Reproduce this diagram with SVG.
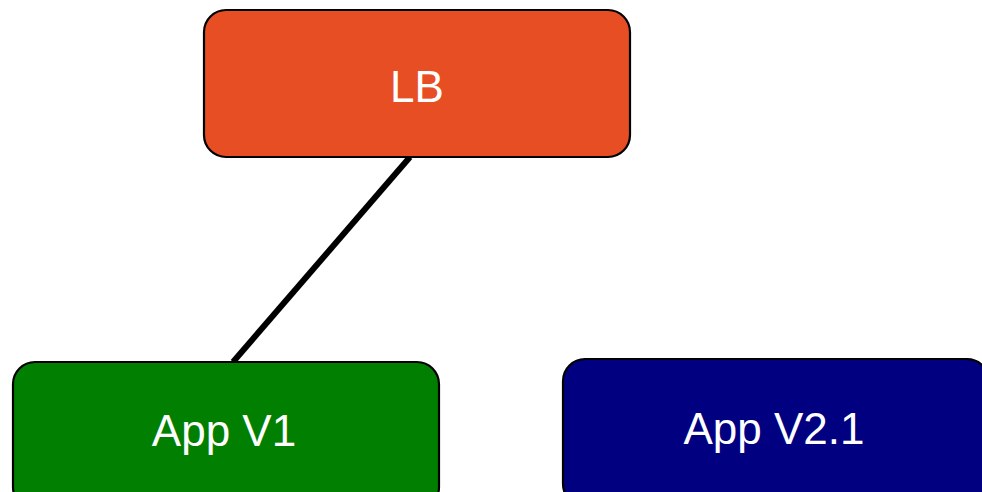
<svg xmlns="http://www.w3.org/2000/svg" width="982" height="492" viewBox="0 0 982 492">
  <style>
    .box { stroke: #000; stroke-width: 2.2; }
    .label { font-family: "Liberation Sans", Arial, sans-serif; font-size: 44px; fill: #fff; text-anchor: middle; }
    .link { stroke: #000; stroke-width: 6; fill: none; }
  </style>
  <rect width="982" height="492" fill="#fff"/>
  <g id="connectors">
    <line class="link" x1="410" y1="157" x2="233" y2="362"/>
  </g>
  <g id="lb">
    <rect class="box" x="204" y="10" width="426" height="147" rx="22" fill="#E84E24"/>
    <text class="label" x="417" y="102">LB</text>
  </g>
  <g id="app-v1">
    <rect class="box" x="13" y="362" width="426" height="147" rx="22" fill="#007F00"/>
    <text class="label" x="224" y="446">App V1</text>
  </g>
  <g id="app-v2-1">
    <rect class="box" x="563" y="359" width="426" height="147" rx="22" fill="#000080"/>
    <text class="label" x="774" y="444">App V2.1</text>
  </g>
</svg>
